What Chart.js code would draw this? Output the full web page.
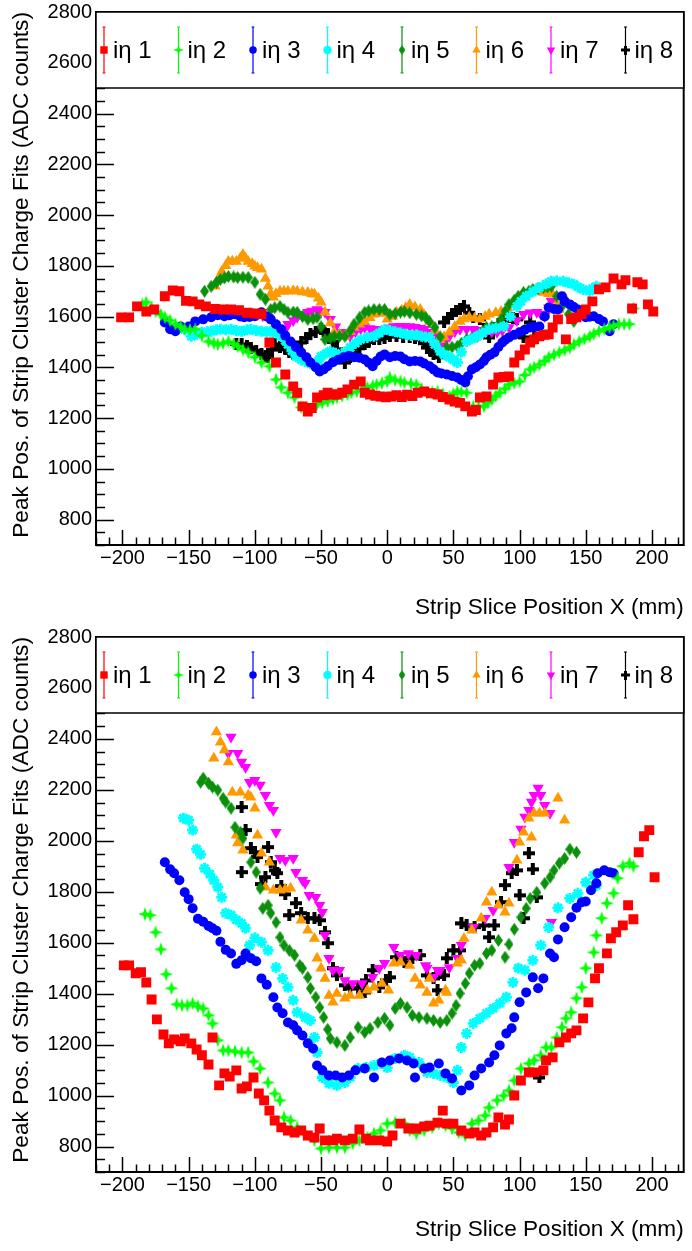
<!DOCTYPE html>
<html>
<head>
<meta charset="utf-8">
<script src="https://cdn.jsdelivr.net/npm/chart.js@4.4.0/dist/chart.umd.min.js"></script>
<style>
  body { margin: 0; background: #fff; }
  canvas { display: block; }
</style>
</head>
<body>
<canvas id="arriba" width="692" height="623"></canvas>
<canvas id="abajo" width="692" height="628"></canvas>
<script>
// etiquetas y ejes
const etiquetas = ['iη 1', 'iη 2', 'iη 3', 'iη 4', 'iη 5', 'iη 6', 'iη 7', 'iη 8'];
const xTicks = [-200, -150, -100, -50, 0, 50, 100, 150, 200];
const yTicks = [800, 1000, 1200, 1400, 1600, 1800, 2000, 2200, 2400, 2600, 2800];
const tituloX = 'Strip Slice Position X (mm)';
const tituloY = 'Peak Pos. of Strip Cluster Charge Fits (ADC counts)';

// panel de arriba: [x, pico]
const arribaEta1 = [[-201,1597],[-195,1597],[-189,1640],[-182,1620],[-176,1628],[-168,1680],[-162,1703],[-157,1700],[-152,1662],[-147,1660],[-142,1648],[-137,1640],[-130,1630],[-124,1628],[-118,1628],[-112,1625],[-106,1615],[-100,1612],[-95,1610],[-89,1498],[-84,1419],[-77,1372],[-71,1325],[-68,1300],[-64,1246],[-60,1226],[-57,1240],[-53,1281],[-48,1290],[-45,1300],[-41,1293],[-38,1293],[-34,1300],[-30,1313],[-25,1332],[-20,1344],[-17,1300],[-13,1293],[-9,1288],[-5,1285],[-1,1282],[3,1285],[7,1290],[11,1283],[15,1292],[19,1287],[23,1300],[28,1305],[33,1298],[38,1293],[42,1283],[47,1273],[51,1265],[55,1260],[59,1246],[64,1226],[67,1232],[70,1281],[75,1285],[80,1332],[84,1360],[88,1362],[92,1364],[96,1419],[100,1447],[104,1470],[108,1498],[111,1510],[115,1522],[119,1528],[122,1530],[125,1557],[129,1589],[135,1510],[139,1590],[143,1597],[147,1610],[150,1628],[155,1660],[160,1707],[165,1715],[171,1750],[177,1727],[180,1743],[185,1632],[189,1735],[193,1727],[197,1648],[201,1620]];
const arribaEta2 = [[-185,1648],[-182,1656],[-178,1635],[-175,1620],[-171,1608],[-168,1597],[-164,1585],[-160,1570],[-156,1560],[-153,1550],[-149,1548],[-145,1550],[-140,1525],[-135,1502],[-131,1495],[-128,1490],[-124,1495],[-120,1502],[-116,1492],[-113,1483],[-109,1470],[-105,1459],[-100,1440],[-95,1419],[-89,1404],[-84,1352],[-80,1321],[-75,1300],[-70,1281],[-65,1242],[-60,1234],[-56,1245],[-53,1254],[-49,1260],[-45,1266],[-41,1275],[-38,1281],[-34,1287],[-30,1293],[-27,1300],[-23,1305],[-19,1313],[-15,1321],[-11,1327],[-8,1332],[-4,1338],[0,1344],[2,1360],[6,1350],[10,1345],[13,1340],[18,1336],[22,1332],[26,1315],[30,1300],[34,1302],[38,1305],[42,1295],[47,1285],[50,1295],[53,1305],[56,1302],[60,1300],[65,1246],[69,1246],[73,1246],[76,1260],[79,1273],[82,1287],[85,1300],[89,1316],[92,1332],[96,1338],[100,1344],[104,1370],[108,1392],[111,1400],[115,1411],[119,1425],[122,1440],[126,1450],[130,1459],[134,1468],[138,1478],[141,1490],[145,1502],[149,1512],[153,1522],[156,1532],[160,1542],[164,1550],[168,1557],[171,1563],[175,1570],[179,1570],[183,1570],[186,1632]];
const arribaEta3 = [[-168,1577],[-164,1550],[-160,1542],[-156,1561],[-150,1561],[-145,1581],[-139,1589],[-133,1597],[-128,1605],[-123,1601],[-119,1605],[-115,1609],[-111,1600],[-108,1597],[-104,1598],[-100,1601],[-95,1617],[-91,1600],[-88,1589],[-84,1570],[-80,1550],[-77,1525],[-73,1502],[-69,1480],[-65,1459],[-61,1440],[-58,1419],[-54,1400],[-51,1384],[-48,1392],[-45,1404],[-41,1420],[-37,1430],[-33,1440],[-29,1445],[-25,1440],[-21,1438],[-17,1431],[-14,1418],[-11,1404],[-8,1425],[-5,1443],[-2,1451],[2,1440],[6,1445],[10,1443],[13,1432],[17,1423],[21,1425],[25,1423],[28,1415],[32,1404],[35,1392],[38,1380],[41,1376],[45,1372],[49,1366],[53,1360],[56,1350],[59,1340],[61,1365],[64,1392],[67,1400],[70,1411],[73,1425],[75,1440],[78,1450],[81,1459],[84,1480],[87,1498],[89,1508],[92,1518],[96,1528],[100,1538],[104,1548],[108,1557],[111,1560],[115,1561],[119,1600],[122,1636],[126,1630],[129,1628],[132,1680],[134,1660],[138,1648],[141,1638],[144,1628],[147,1612],[150,1597],[153,1599],[156,1601],[160,1590],[163,1581],[168,1542],[171,1570]];
const arribaEta4 = [[-153,1550],[-148,1522],[-144,1530],[-140,1538],[-136,1540],[-133,1542],[-129,1548],[-126,1550],[-122,1548],[-118,1550],[-114,1545],[-110,1542],[-106,1548],[-103,1550],[-99,1545],[-95,1542],[-91,1540],[-88,1542],[-84,1535],[-80,1522],[-77,1505],[-75,1490],[-72,1465],[-69,1443],[-65,1430],[-62,1423],[-58,1415],[-55,1411],[-52,1425],[-50,1443],[-46,1455],[-43,1463],[-39,1455],[-35,1443],[-32,1460],[-28,1478],[-24,1495],[-20,1510],[-15,1518],[-10,1522],[-6,1535],[-2,1550],[2,1545],[6,1540],[10,1535],[14,1530],[18,1525],[22,1528],[26,1522],[29,1520],[32,1518],[36,1490],[40,1463],[43,1450],[47,1440],[50,1430],[53,1419],[56,1460],[60,1502],[64,1512],[68,1522],[72,1535],[77,1550],[82,1555],[88,1561],[93,1600],[98,1640],[101,1660],[105,1680],[110,1698],[115,1715],[120,1728],[124,1739],[128,1740],[133,1739],[137,1733],[141,1727],[144,1717],[148,1707],[153,1700],[155,1710],[158,1719]];
const arribaEta5 = [[-138,1700],[-133,1719],[-129,1735],[-126,1747],[-123,1752],[-120,1758],[-116,1756],[-113,1754],[-109,1755],[-105,1754],[-100,1735],[-96,1688],[-92,1668],[-88,1628],[-85,1635],[-81,1640],[-78,1628],[-75,1617],[-71,1618],[-68,1617],[-64,1600],[-60,1589],[-56,1592],[-53,1597],[-50,1560],[-47,1510],[-43,1515],[-40,1522],[-36,1522],[-32,1522],[-28,1545],[-25,1570],[-21,1595],[-17,1617],[-14,1622],[-10,1628],[-6,1628],[-2,1628],[2,1609],[6,1612],[10,1618],[13,1620],[17,1615],[22,1609],[26,1603],[29,1597],[32,1580],[36,1557],[40,1520],[45,1478],[49,1480],[53,1483],[56,1495],[60,1510],[64,1516],[68,1522],[72,1540],[75,1557],[79,1560],[83,1561],[86,1590],[89,1620],[92,1648],[96,1665],[99,1680],[103,1695],[107,1700],[110,1707],[114,1711],[118,1715],[121,1717],[124,1719],[128,1680],[133,1648],[137,1609],[141,1581],[145,1620]];
const arribaEta6 = [[-130,1719],[-128,1745],[-125,1778],[-122,1800],[-120,1817],[-117,1818],[-114,1817],[-111,1830],[-109,1845],[-107,1830],[-105,1817],[-102,1808],[-100,1798],[-98,1792],[-95,1786],[-92,1750],[-90,1719],[-88,1690],[-86,1676],[-84,1690],[-81,1700],[-78,1700],[-75,1700],[-71,1702],[-68,1700],[-64,1697],[-60,1695],[-57,1690],[-55,1688],[-52,1672],[-50,1656],[-47,1617],[-43,1575],[-40,1538],[-36,1530],[-32,1522],[-28,1540],[-25,1557],[-21,1570],[-17,1581],[-13,1595],[-10,1609],[-6,1612],[-2,1617],[0,1589],[4,1600],[7,1617],[11,1625],[14,1635],[17,1648],[21,1638],[25,1628],[28,1605],[32,1581],[36,1545],[40,1510],[43,1520],[47,1538],[51,1560],[55,1581],[58,1590],[62,1597],[66,1593],[70,1589],[74,1600],[77,1609],[82,1615],[86,1620],[91,1633],[95,1648],[99,1665],[103,1680],[107,1692],[110,1700],[114,1698],[118,1695],[122,1690],[125,1688],[128,1650],[130,1628],[134,1676]];
const arribaEta7 = [[-120,1609],[-117,1615],[-113,1620],[-109,1620],[-105,1620],[-101,1615],[-98,1609],[-94,1603],[-90,1597],[-85,1570],[-80,1530],[-77,1550],[-75,1570],[-71,1585],[-68,1597],[-64,1608],[-60,1617],[-57,1622],[-53,1628],[-50,1622],[-47,1617],[-43,1589],[-39,1560],[-35,1538],[-31,1530],[-28,1522],[-24,1540],[-20,1552],[-17,1557],[-13,1553],[-10,1550],[-6,1550],[-2,1550],[2,1556],[5,1561],[9,1562],[13,1561],[17,1561],[21,1558],[25,1554],[28,1550],[31,1538],[35,1522],[38,1500],[41,1483],[44,1505],[47,1522],[51,1540],[55,1550],[60,1550],[65,1550],[70,1546],[75,1542],[79,1540],[83,1538],[87,1545],[92,1557],[98,1585],[103,1609],[108,1615],[113,1617],[116,1610],[119,1601],[122,1635],[124,1660]];
const arribaEta8 = [[-114,1492],[-110,1490],[-106,1484],[-103,1478],[-99,1465],[-95,1451],[-92,1445],[-90,1440],[-87,1470],[-85,1490],[-81,1480],[-77,1471],[-74,1460],[-71,1451],[-68,1470],[-65,1498],[-61,1515],[-58,1530],[-54,1540],[-50,1550],[-48,1545],[-45,1530],[-41,1500],[-38,1471],[-35,1445],[-32,1419],[-28,1440],[-25,1459],[-21,1475],[-17,1490],[-14,1500],[-10,1510],[-6,1510],[-2,1516],[2,1522],[7,1522],[12,1520],[17,1518],[21,1515],[25,1510],[28,1495],[30,1478],[33,1465],[35,1451],[39,1440],[43,1577],[46,1595],[49,1609],[52,1620],[55,1628],[58,1640],[62,1615],[65,1597],[70,1589],[73,1550],[77,1518],[80,1545],[84,1570],[88,1585],[92,1597],[95,1593],[98,1589],[103,1518],[108,1577],[111,1550]];

// panel de abajo: [x, pico]
const abajoEta1 = [[-199,1511],[-195,1511],[-190,1480],[-186,1484],[-182,1444],[-178,1377],[-174,1299],[-169,1240],[-165,1205],[-161,1220],[-156,1213],[-153,1224],[-148,1205],[-144,1181],[-140,1158],[-135,1122],[-132,1228],[-127,1040],[-123,1087],[-119,1075],[-114,1099],[-110,1028],[-106,1036],[-101,1071],[-97,1008],[-93,981],[-89,941],[-85,902],[-80,875],[-75,863],[-70,855],[-65,863],[-60,843],[-55,835],[-51,871],[-47,824],[-41,824],[-38,831],[-32,824],[-26,831],[-21,867],[-16,831],[-13,824],[-6,824],[0,820],[4,843],[10,890],[16,871],[22,871],[28,879],[32,882],[38,894],[42,941],[45,890],[50,890],[56,863],[62,851],[66,855],[71,843],[75,855],[80,875],[84,914],[89,886],[92,906],[96,1000],[101,1059],[107,1091],[111,1091],[118,1099],[120,1138],[125,1150],[130,1209],[135,1228],[139,1244],[143,1256],[148,1303],[152,1366],[157,1460],[160,1500],[166,1558],[169,1617],[173,1641],[178,1668],[182,1747],[186,1692],[190,1955],[194,2018],[198,2042],[202,1857]];
const abajoEta2 = [[-183,1712],[-179,1708],[-175,1641],[-171,1574],[-167,1476],[-163,1421],[-159,1358],[-155,1354],[-151,1354],[-147,1362],[-143,1350],[-139,1342],[-135,1315],[-132,1283],[-128,1217],[-124,1177],[-120,1177],[-115,1173],[-110,1169],[-105,1169],[-101,1134],[-96,1106],[-90,1051],[-85,1008],[-81,981],[-78,914],[-73,902],[-68,875],[-62,851],[-55,824],[-50,792],[-44,796],[-38,796],[-32,796],[-26,812],[-21,824],[-15,835],[-10,851],[-5,863],[0,890],[6,894],[13,890],[17,863],[22,851],[28,863],[34,875],[39,890],[44,882],[49,871],[54,855],[59,843],[64,890],[69,902],[74,922],[77,953],[83,981],[88,1000],[92,1020],[96,1059],[101,1106],[107,1126],[111,1138],[116,1158],[120,1189],[124,1189],[128,1228],[132,1268],[135,1303],[139,1327],[143,1382],[147,1425],[150,1500],[156,1562],[158,1629],[162,1696],[166,1755],[171,1794],[174,1853],[178,1900],[183,1912],[186,1900]];
const abajoEta3 = [[-168,1916],[-164,1888],[-161,1873],[-157,1845],[-153,1798],[-150,1771],[-147,1735],[-143,1694],[-139,1682],[-135,1666],[-132,1657],[-129,1647],[-126,1604],[-122,1572],[-118,1558],[-114,1517],[-110,1531],[-107,1558],[-103,1539],[-99,1527],[-95,1460],[-91,1435],[-86,1386],[-83,1346],[-79,1323],[-75,1287],[-71,1276],[-68,1256],[-64,1236],[-60,1205],[-56,1185],[-53,1118],[-49,1099],[-44,1079],[-39,1079],[-34,1071],[-29,1079],[-24,1099],[-17,1106],[-10,1071],[-4,1130],[2,1138],[9,1146],[15,1138],[20,1126],[21,1071],[28,1106],[32,1110],[39,1126],[44,1087],[49,1067],[56,1020],[62,1040],[66,1079],[71,1106],[77,1130],[81,1158],[85,1197],[90,1244],[94,1264],[96,1307],[100,1366],[105,1405],[110,1464],[114,1421],[118,1460],[123,1558],[126,1543],[129,1613],[134,1661],[139,1700],[143,1737],[147,1759],[150,1762],[154,1806],[158,1833],[159,1873],[164,1884],[168,1877],[171,1873]];
const abajoEta4 = [[-154,2089],[-150,2081],[-147,2042],[-144,1967],[-141,1947],[-138,1892],[-134,1869],[-131,1845],[-128,1818],[-125,1778],[-122,1716],[-118,1708],[-114,1690],[-110,1676],[-107,1657],[-104,1590],[-100,1619],[-95,1602],[-90,1570],[-84,1503],[-79,1460],[-75,1425],[-71,1374],[-68,1327],[-62,1307],[-58,1295],[-55,1228],[-53,1169],[-49,1071],[-44,1048],[-38,1040],[-32,1051],[-28,1071],[-22,1106],[-16,1110],[-10,1118],[-5,1126],[0,1110],[6,1146],[13,1158],[17,1150],[24,1130],[30,1091],[35,1087],[40,1079],[45,1071],[50,1051],[53,1099],[56,1189],[60,1244],[65,1283],[70,1303],[75,1323],[80,1342],[85,1362],[90,1386],[95,1444],[99,1500],[104,1492],[110,1531],[116,1590],[122,1660],[129,1737],[138,1774],[144,1794],[150,1837],[156,1865],[158,1825]];
const abajoEta5 = [[-141,2230],[-139,2246],[-135,2226],[-132,2211],[-128,2199],[-124,2167],[-122,2152],[-118,2128],[-115,2053],[-111,2034],[-109,2010],[-103,1916],[-99,1877],[-96,1814],[-94,1735],[-90,1747],[-88,1716],[-84,1680],[-81,1621],[-78,1590],[-74,1570],[-70,1551],[-66,1511],[-64,1500],[-60,1464],[-58,1421],[-54,1386],[-51,1346],[-48,1307],[-45,1260],[-43,1224],[-38,1209],[-32,1197],[-28,1228],[-22,1268],[-17,1248],[-13,1264],[-7,1287],[-2,1303],[2,1276],[6,1342],[10,1362],[15,1346],[19,1315],[24,1307],[30,1303],[35,1295],[40,1287],[45,1295],[49,1323],[52,1354],[55,1401],[59,1440],[62,1480],[66,1511],[70,1519],[75,1558],[79,1570],[84,1609],[89,1543],[92,1594],[96,1653],[101,1700],[105,1735],[108,1774],[113,1798],[119,1833],[123,1857],[126,1884],[130,1912],[134,1931],[138,1967],[143,1955]];
const abajoEta6 = [[-131,2324],[-129,2427],[-126,2387],[-123,2356],[-120,2309],[-117,2191],[-114,2022],[-113,1991],[-111,2191],[-109,1963],[-105,2179],[-103,2171],[-100,2128],[-98,2022],[-95,1951],[-92,1818],[-89,1916],[-86,1806],[-81,1806],[-77,1810],[-73,1814],[-65,1688],[-60,1649],[-55,1617],[-53,1539],[-50,1500],[-47,1460],[-44,1393],[-41,1366],[-38,1401],[-32,1382],[-28,1393],[-21,1393],[-15,1413],[-10,1425],[-4,1440],[1,1413],[5,1519],[10,1523],[17,1511],[21,1460],[25,1433],[30,1405],[32,1460],[35,1362],[39,1374],[44,1413],[45,1405],[53,1519],[56,1531],[58,1617],[64,1649],[71,1696],[75,1759],[79,1798],[84,1747],[89,1720],[92,1755],[98,1924],[100,1994],[103,2034],[107,2089],[109,2014],[111,2108],[115,2108],[119,2108],[129,2167],[134,2081]];
const abajoEta7 = [[-120,2344],[-118,2407],[-113,2344],[-110,2309],[-107,2289],[-104,2230],[-100,2238],[-96,2219],[-92,2179],[-89,2140],[-86,2120],[-84,2034],[-81,1932],[-77,1924],[-71,1932],[-69,1877],[-64,1845],[-62,1833],[-59,1786],[-54,1778],[-51,1747],[-49,1720],[-47,1629],[-44,1539],[-41,1492],[-36,1492],[-32,1452],[-26,1440],[-19,1440],[-11,1464],[-6,1500],[-2,1519],[5,1582],[10,1551],[16,1558],[22,1551],[29,1511],[30,1500],[35,1464],[38,1492],[40,1492],[47,1503],[53,1539],[56,1590],[65,1661],[74,1696],[80,1727],[92,1896],[96,1994],[101,2046],[104,2093],[107,2120],[109,2152],[111,2179],[114,2207],[116,2179],[119,2140],[123,2108],[124,1680]];
const abajoEta8 = [[-110,1877],[-110,2132],[-107,2042],[-103,1971],[-100,1955],[-98,1936],[-95,1830],[-92,1857],[-90,1975],[-88,1916],[-85,1884],[-83,1873],[-80,1822],[-77,1790],[-74,1708],[-69,1755],[-65,1716],[-60,1696],[-55,1696],[-51,1688],[-47,1641],[-45,1598],[-41,1500],[-38,1472],[-32,1433],[-28,1421],[-22,1421],[-17,1405],[-16,1452],[-11,1492],[-6,1425],[-1,1452],[2,1464],[7,1543],[13,1523],[19,1539],[25,1551],[30,1472],[35,1460],[38,1413],[40,1480],[43,1472],[45,1539],[50,1570],[55,1570],[56,1676],[60,1668],[66,1661],[73,1668],[77,1621],[81,1668],[86,1759],[89,1826],[94,1873],[98,1884],[100,1786],[103,1696],[107,1951],[110,1888],[113,1778],[115,1071]];

const colores = ['#ff0000', '#00ff00', '#0000ff', '#00ffff', '#0a900a', '#ff9900', '#ff00ff', '#000000'];

// marcadores dibujados a mano (estrella de 4 puntas, rombo, cruz gruesa)
function lienzo(w, h, dibujar) {
  const c = document.createElement('canvas');
  c.width = w; c.height = h;
  dibujar(c.getContext('2d'), w, h);
  return c;
}
const estrella = lienzo(14, 14, (g, w, h) => {
  const m = w / 2, q = 1.8;
  g.beginPath();
  g.moveTo(m, 0); g.lineTo(m + q, m - q); g.lineTo(w, m); g.lineTo(m + q, m + q);
  g.lineTo(m, h); g.lineTo(m - q, m + q); g.lineTo(0, m); g.lineTo(m - q, m - q);
  g.closePath();
  g.fillStyle = colores[1];
  g.fill();
});
const rombo = lienzo(9, 13, (g, w, h) => {
  g.beginPath();
  g.moveTo(w / 2, 0); g.lineTo(w, h / 2); g.lineTo(w / 2, h); g.lineTo(0, h / 2);
  g.closePath();
  g.fillStyle = colores[4];
  g.fill();
});
const cruz = lienzo(12, 12, (g, w, h) => {
  g.fillStyle = colores[7];
  g.fillRect(4, 0, 4, h);
  g.fillRect(0, 4, w, 4);
});

const estilos = [
  { pointStyle: 'rect', pointRadius: 7, rotation: 0, borderWidth: 0 },
  { pointStyle: estrella, pointRadius: 6, rotation: 0, borderWidth: 0 },
  { pointStyle: 'circle', pointRadius: 5, rotation: 0, borderWidth: 0 },
  { pointStyle: 'star', pointRadius: 5.5, rotation: 0, borderWidth: 2.8 },
  { pointStyle: rombo, pointRadius: 6, rotation: 0, borderWidth: 0 },
  { pointStyle: 'triangle', pointRadius: 6.5, rotation: 0, borderWidth: 0 },
  { pointStyle: 'triangle', pointRadius: 6.5, rotation: 180, borderWidth: 0 },
  { pointStyle: cruz, pointRadius: 6, rotation: 0, borderWidth: 0 }
];

function armarDatasets(series) {
  return series.map((serie, i) => ({
    label: etiquetas[i],
    data: serie.map(p => ({ x: p[0], y: p[1] })),
    backgroundColor: colores[i],
    borderColor: colores[i],
    pointStyle: estilos[i].pointStyle,
    pointRadius: estilos[i].pointRadius,
    pointRotation: estilos[i].rotation,
    pointBorderWidth: estilos[i].borderWidth,
    showLine: false
  }));
}

const fmt = v => (v < 0 ? '\u2212' + Math.abs(v) : String(v));
const fuente = '"Liberation Sans", Arial, sans-serif';

// marco, marcas hacia adentro y leyenda estilo ROOT
const marcoRoot = {
  id: 'marcoRoot',
  afterDraw(chart, args, opts) {
    const ctx = chart.ctx;
    const ca = chart.chartArea;
    const xs = chart.scales.x, ys = chart.scales.y;
    ctx.save();
    ctx.strokeStyle = '#000';
    ctx.lineWidth = 1.5;
    ctx.beginPath();
    for (let v = -220; v <= 224; v += 10) {
      const px = Math.round(xs.getPixelForValue(v)) + 0.5;
      const largo = v % 50 === 0 ? 15 : 7.5;
      ctx.moveTo(px, ca.bottom);
      ctx.lineTo(px, ca.bottom - largo);
    }
    for (let v = 700; v <= 2800; v += 50) {
      const py = Math.round(ys.getPixelForValue(v)) + 0.5;
      const largo = v % 200 === 0 ? 18 : 9;
      ctx.moveTo(ca.left, py);
      ctx.lineTo(ca.left + largo, py);
    }
    ctx.stroke();
    ctx.lineWidth = 2;
    ctx.strokeRect(ca.left, ca.top, ca.right - ca.left, ca.bottom - ca.top);

    // leyenda
    const altoCaja = opts.alto;
    ctx.fillStyle = '#fff';
    ctx.fillRect(ca.left, ca.top, ca.right - ca.left, altoCaja);
    ctx.lineWidth = 1.5;
    ctx.strokeRect(ca.left, ca.top, ca.right - ca.left, altoCaja);
    const cy = ca.top + opts.centro;
    chart.data.datasets.forEach((ds, i) => {
      const mx = ca.left + 8 + i * 74.5;
      ctx.strokeStyle = ds.borderColor;
      ctx.lineWidth = 1.2;
      ctx.beginPath();
      ctx.moveTo(mx, cy - 23); ctx.lineTo(mx, cy + 23);
      ctx.moveTo(mx - 1.5, cy - 23); ctx.lineTo(mx + 1.5, cy - 23);
      ctx.moveTo(mx - 1.5, cy + 23); ctx.lineTo(mx + 1.5, cy + 23);
      ctx.stroke();
      ctx.fillStyle = ds.backgroundColor;
      const est = ds.pointStyle;
      if (typeof est === 'object') {
        const w = est.width * 0.75, h = est.height * 0.75;
        ctx.drawImage(est, mx - w / 2, cy - h / 2, w, h);
      } else {
        ctx.lineWidth = ds.pointBorderWidth || 0;
        Chart.helpers.drawPoint(ctx, {
          pointStyle: est, rotation: ds.pointRotation, radius: ds.pointRadius * 0.75,
          borderWidth: ds.pointBorderWidth
        }, mx, cy);
      }
      ctx.fillStyle = '#000';
      ctx.font = '24px ' + fuente;
      ctx.textBaseline = 'middle';
      ctx.textAlign = 'left';
      ctx.fillText(ds.label, mx + 9, cy + 1);
    });
    ctx.restore();
  }
};

function crearPanel(id, series, alturaEjeX, padTop, padTitulo, leyenda) {
  return new Chart(document.getElementById(id), {
    type: 'scatter',
    data: { datasets: armarDatasets(series) },
    options: {
      responsive: false,
      animation: false,
      layout: { padding: { top: padTop, right: 4, left: 0, bottom: 0 } },
      plugins: {
        legend: { display: false },
        tooltip: { enabled: false },
        marcoRoot: leyenda
      },
      scales: {
        x: {
          type: 'linear',
          min: -220, max: 224,
          afterBuildTicks: s => { s.ticks = xTicks.map(v => ({ value: v })); },
          afterFit: s => { s.height = alturaEjeX; s.paddingLeft = 0; s.paddingRight = 0; },
          grid: { display: false, drawTicks: false },
          border: { display: false },
          ticks: {
            callback: fmt, color: '#000', padding: 1, maxRotation: 0,
            font: { family: fuente, size: 20 }
          },
          title: {
            display: true, text: tituloX, align: 'end', color: '#000',
            padding: { top: 0, bottom: padTitulo },
            font: { family: fuente, size: 22.6 }
          }
        },
        y: {
          type: 'linear',
          min: 700, max: 2800,
          afterBuildTicks: s => { s.ticks = yTicks.map(v => ({ value: v })); },
          afterFit: s => { s.width = 96; s.paddingTop = 0; s.paddingBottom = 0; },
          grid: { display: false, drawTicks: false },
          border: { display: false },
          ticks: {
            callback: fmt, color: '#000', padding: 4,
            font: { family: fuente, size: 20 }
          },
          title: {
            display: true, text: tituloY, align: 'end', color: '#000',
            padding: { top: 8, bottom: 0 },
            font: { family: fuente, size: 22.7 }
          }
        }
      }
    },
    plugins: [marcoRoot]
  });
}

crearPanel('arriba',
  [arribaEta1, arribaEta2, arribaEta3, arribaEta4, arribaEta5, arribaEta6, arribaEta7, arribaEta8],
  78, 12, 1.5, { alto: 76, centro: 38 });
crearPanel('abajo',
  [abajoEta1, abajoEta2, abajoEta3, abajoEta4, abajoEta5, abajoEta6, abajoEta7, abajoEta8],
  79, 14, 7.5, { alto: 76, centro: 38 });
</script>
</body>
</html>
